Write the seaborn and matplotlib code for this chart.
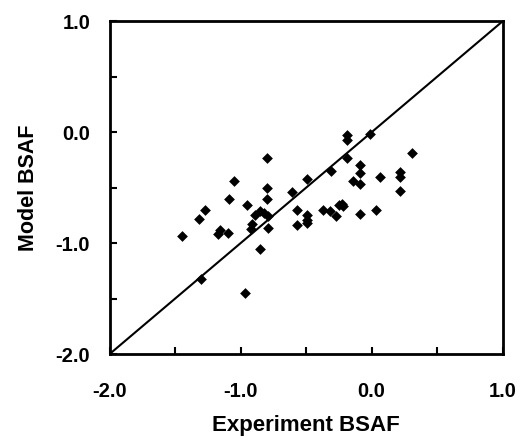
import seaborn as sns
import matplotlib.pyplot as plt
import pandas as pd
from matplotlib.ticker import MultipleLocator, FormatStrFormatter

# experiment vs model BSAF (log units)
experiment = [-1.45, -1.32, -1.27, -1.30, -1.17, -1.16, -1.09, -1.10, -1.05,
              -0.95, -0.97, -0.92, -0.91, -0.89, -0.85, -0.85, -0.82, -0.80,
              -0.80, -0.80, -0.79, -0.79, -0.61, -0.57, -0.57, -0.49, -0.49,
              -0.49, -0.49, -0.37, -0.32, -0.31, -0.27, -0.25, -0.23, -0.22,
              -0.19, -0.19, -0.19, -0.14, -0.09, -0.09, -0.09, -0.09, -0.01,
              0.03, 0.06, 0.22, 0.22, 0.22, 0.31]
model = [-0.94, -0.78, -0.70, -1.32, -0.92, -0.88, -0.60, -0.91, -0.44,
         -0.66, -1.45, -0.87, -0.83, -0.75, -0.71, -1.05, -0.73, -0.60,
         -0.50, -0.23, -0.86, -0.76, -0.54, -0.70, -0.84, -0.42, -0.75,
         -0.79, -0.82, -0.70, -0.71, -0.35, -0.76, -0.66, -0.65, -0.67,
         -0.03, -0.07, -0.23, -0.44, -0.30, -0.37, -0.47, -0.74, -0.02,
         -0.70, -0.40, -0.36, -0.40, -0.53, -0.19]
lims = [-2.0, 1.0]

df = pd.DataFrame({"Experiment BSAF": experiment, "Model BSAF": model})

sns.set_style("ticks")
plt.rcParams['font.family'] = ['Liberation Sans', 'DejaVu Sans']
plt.rcParams['font.weight'] = 'bold'
plt.rcParams['text.color'] = 'black'
plt.rcParams['axes.labelcolor'] = 'black'

fig = plt.figure(figsize=(5.22, 4.42), dpi=100)
ax = fig.add_axes([0.21, 0.199, 0.753, 0.753])

# 1:1 line
ax.axline((lims[0], lims[0]), slope=1, color="black", lw=1.5, zorder=1)
sns.scatterplot(data=df, x="Experiment BSAF", y="Model BSAF", marker="D",
                color="black", s=30, linewidth=0, ax=ax, zorder=2)

ax.set_xlim(lims)
ax.set_ylim(lims)
for axis in (ax.xaxis, ax.yaxis):
    axis.set_major_locator(MultipleLocator(1.0))
    axis.set_minor_locator(MultipleLocator(0.5))
    axis.set_major_formatter(FormatStrFormatter("%.1f"))
ax.tick_params(which="both", direction="in", length=5, width=1.5,
               color="black", labelcolor="black")
ax.tick_params(axis="x", which="major", pad=20, labelsize=14.5)
ax.tick_params(axis="y", which="major", pad=14, labelsize=14.5)
for lbl in ax.get_xticklabels() + ax.get_yticklabels():
    lbl.set_fontweight("bold")
for sp in ax.spines.values():
    sp.set_linewidth(2)
    sp.set_color("black")

ax.set_xlabel("Experiment BSAF", fontsize=16, fontweight="bold", labelpad=10)
ax.set_ylabel("Model BSAF", fontsize=15.5, fontweight="bold", labelpad=12)

fig.savefig("out.png", dpi=100)
